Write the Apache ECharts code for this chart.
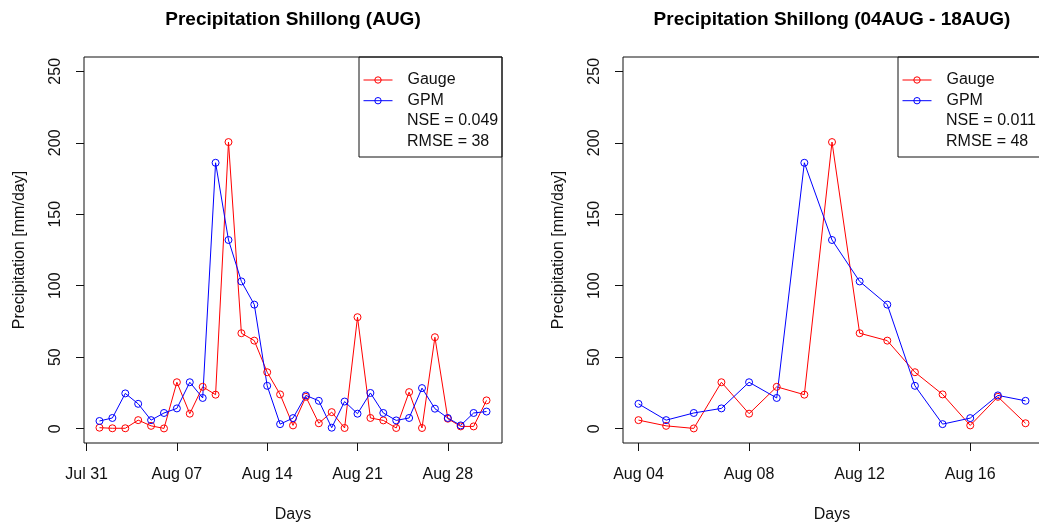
<!DOCTYPE html>
<html>
<head>
<meta charset="utf-8">
<script src="https://cdn.jsdelivr.net/npm/echarts@6/dist/echarts.min.js"></script>
<style>
  html, body { margin: 0; padding: 0; background: #fff; overflow: hidden; }
  #chart { width: 1039px; height: 525px; }
</style>
</head>
<body>
<div id="chart"></div>
<script>
// Daily precipitation at Shillong, August (mm/day)
const augDays = [1, 2, 3, 4, 5, 6, 7, 8, 9, 10, 11, 12, 13, 14, 15, 16,
                 17, 18, 19, 20, 21, 22, 23, 24, 25, 26, 27, 28, 29, 30, 31];
const gauge = [0.7, 0.3, 0.3, 6, 2, 0.2, 32.5, 10.5, 29.3, 23.8, 200.5, 66.8, 61.6, 39.5, 24,
               2.3, 22.3, 3.8, 11.6, 0.5, 78, 7.5, 5.8, 0.5, 25.6, 0.5, 64, 7, 1.6, 1.6, 19.8];
const gpm = [5.4, 7.5, 24.7, 17.4, 6, 11, 14.2, 32.5, 21.5, 186, 132, 103, 86.8, 30, 3.2,
             7.4, 23.3, 19.5, 0.7, 19, 10.5, 25, 11, 5.8, 7.5, 28.4, 14, 7.5, 2.3, 11, 12];

// Sub-period shown in the second panel
const subFrom = 4, subTo = 18;

// Axis ticks (day of August) and their labels
const fullTickDays = [0, 7, 14, 21, 28];
const fullTickLabels = ['Jul 31', 'Aug 07', 'Aug 14', 'Aug 21', 'Aug 28'];
const subTickDays = [4, 8, 12, 16];
const subTickLabels = ['Aug 04', 'Aug 08', 'Aug 12', 'Aug 16'];
const yTicks = [0, 50, 100, 150, 200, 250];
const yLimits = [0, 250];

const panelTitles = ['Precipitation Shillong (AUG)', 'Precipitation Shillong (04AUG - 18AUG)'];
const fitStats = [['NSE = 0.049', 'RMSE = 38'], ['NSE = 0.011', 'RMSE = 48']];
const seriesNames = ['Gauge', 'GPM'];
const seriesColors = ['#ff0000', '#0000ff'];

const FONT = '"Liberation Sans", Arial, Helvetica, sans-serif';
const INK = '#111';

// R-style axis range: data/limit range widened by 4% on each side
function padded(lo, hi) {
  const p = 0.04 * (hi - lo);
  return [lo - p, hi + p];
}

function pairs(values, from, to) {
  const out = [];
  augDays.forEach((d, i) => { if (d >= from && d <= to) out.push([d, values[i]]); });
  return out;
}

const grids = [
  { left: 84, top: 57, width: 418, height: 386 },
  { left: 623, top: 57, width: 418, height: 386 }
];

function xAxisFor(gi, lo, hi, ticks, labels) {
  const [mn, mx] = padded(lo, hi);
  return {
    type: 'value', gridIndex: gi, min: mn, max: mx, position: 'bottom',
    axisLine: { show: false, onZero: false },
    splitLine: { show: false },
    axisTick: { show: true, inside: false, length: 8, customValues: ticks,
                lineStyle: { color: INK, width: 1 } },
    axisLabel: {
      show: true, customValues: ticks, margin: 24,
      color: INK, fontSize: 16, fontFamily: FONT,
      formatter: v => {
        let k = 0;
        ticks.forEach((t, i) => { if (Math.abs(t - v) < Math.abs(ticks[k] - v)) k = i; });
        return labels[k];
      }
    },
    name: 'Days', nameLocation: 'middle', nameGap: 64,
    nameTextStyle: { color: INK, fontSize: 16, fontFamily: FONT }
  };
}

function yAxisFor(gi) {
  const [mn, mx] = padded(yLimits[0], yLimits[1]);
  return {
    type: 'value', gridIndex: gi, min: mn, max: mx, position: 'left',
    axisLine: { show: false, onZero: false },
    splitLine: { show: false },
    axisTick: { show: true, inside: false, length: 8, customValues: yTicks,
                lineStyle: { color: INK, width: 1 } },
    axisLabel: {
      show: true, customValues: yTicks, rotate: 90, margin: 20,
      color: INK, fontSize: 16, fontFamily: FONT
    },
    name: 'Precipitation [mm/day]', nameLocation: 'middle', nameGap: 56,
    nameTextStyle: { color: INK, fontSize: 16, fontFamily: FONT }
  };
}

function lineSeries(name, color, values, gi, from, to) {
  return {
    name, type: 'line', xAxisIndex: gi, yAxisIndex: gi,
    data: pairs(values, from, to),
    symbol: 'circle', symbolSize: 7,
    itemStyle: { color: 'transparent', borderColor: color, borderWidth: 1 },
    lineStyle: { color, width: 1 },
    emphasis: { disabled: true },
    animation: false
  };
}

const panelRanges = [[augDays[0], augDays[augDays.length - 1]], [subFrom, subTo]];

const series = [];
panelRanges.forEach(([from, to], gi) => {
  series.push(lineSeries(seriesNames[0], seriesColors[0], gauge, gi, from, to));
  series.push(lineSeries(seriesNames[1], seriesColors[1], gpm, gi, from, to));
});

// Legend boxes sit in the top-right corner of each panel
const legendBoxW = 143, legendBoxH = 100;
const graphics = [];
grids.forEach((g, gi) => {
  const bx = g.left + g.width - legendBoxW;
  graphics.push({
    type: 'rect', shape: { x: bx, y: g.top, width: legendBoxW, height: legendBoxH },
    style: { fill: 'none', stroke: INK, lineWidth: 1 }, silent: true, z: 10
  });
  fitStats[gi].forEach((txt, k) => {
    graphics.push({
      type: 'text', x: bx + 48, y: g.top + 64 + k * 20.7, z: 11,
      style: { text: txt, fill: INK, fontSize: 16, fontFamily: FONT,
               textAlign: 'left', textVerticalAlign: 'middle' }
    });
  });
});

const option = {
  backgroundColor: '#fff',
  animation: false,
  title: panelTitles.map((t, gi) => ({
    text: t, left: grids[gi].left + grids[gi].width / 2, top: 10, padding: 0,
    textAlign: 'center',
    textStyle: { fontSize: 19, fontWeight: 'bold', color: '#000', fontFamily: FONT }
  })),
  legend: grids.map(g => ({
    data: seriesNames, orient: 'vertical',
    left: g.left + g.width - legendBoxW + 4, top: g.top + 15, padding: 0,
    itemWidth: 29, itemHeight: 8, itemGap: 4.7,
    selectedMode: false,
    lineStyle: { width: 1 },
    itemStyle: { color: 'transparent', borderWidth: 1 },
    textStyle: { fontSize: 16, lineHeight: 16, fontFamily: FONT, color: INK, padding: [0, 0, 0, 10] }
  })),
  grid: grids.map(g => Object.assign({ show: true, borderColor: INK, borderWidth: 1,
                                       backgroundColor: 'transparent', containLabel: false,
                                       outerBoundsMode: 'none' }, g)),
  xAxis: [
    xAxisFor(0, panelRanges[0][0], panelRanges[0][1], fullTickDays, fullTickLabels),
    xAxisFor(1, panelRanges[1][0], panelRanges[1][1], subTickDays, subTickLabels)
  ],
  yAxis: [yAxisFor(0), yAxisFor(1)],
  series,
  graphic: graphics
};

const chart = echarts.init(document.getElementById('chart'), null, { renderer: 'canvas' });
chart.setOption(option);
</script>
</body>
</html>
